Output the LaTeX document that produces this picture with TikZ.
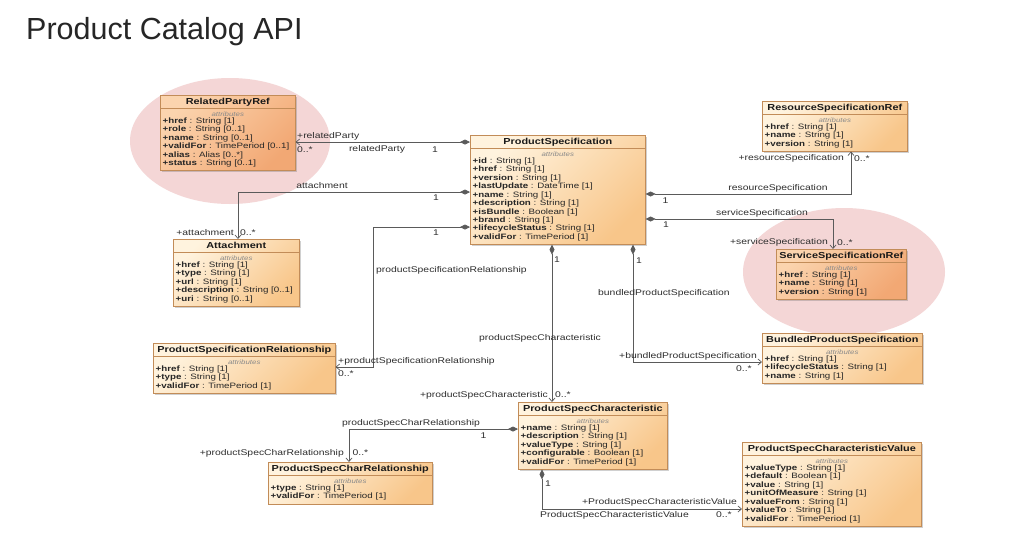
\documentclass[tikz,border=0pt]{standalone}
\usepackage{fontspec}
\setmainfont{Liberation Sans}
\newfontfamily\boxfont{Liberation Sans}[FakeStretch=1.25]
\usetikzlibrary{arrows.meta,shadows,calc}
\definecolor{boxlight}{HTML}{FFF3DE}
\definecolor{boxdark}{HTML}{F8C68A}
\definecolor{hilight}{HTML}{FBD4AE}
\definecolor{hidark}{HTML}{F2A874}
\definecolor{boxborder}{HTML}{C28C58}
\definecolor{pinkbg}{HTML}{F4D6D6}
\definecolor{linecol}{HTML}{5A5A5A}
\definecolor{labelcol}{HTML}{2E2E2E}
\definecolor{attrgray}{HTML}{8A8A8A}
\newcommand\ua[2]{\textbf{+#1} : #2}
% name, x, y, w, h, fill style, title, lines
\newcommand\umlclass[8]{%
  \node[clsbox,#6,minimum width=#4pt,minimum height=#5pt] (#1) at (#2,#3) {};
  \draw[boxborder,line width=0.6pt] ([yshift=-13pt]#1.north west) -- ([yshift=-13pt]#1.north east);
  \node[clstitle] (#1-title) at ([yshift=-6.8pt]#1.north) {#7};
  \node[clsattrs] (#1-attrs) at ([yshift=-19pt]#1.north) {attributes};
  \node[clslines] (#1-lines) at ([xshift=2.5pt,yshift=-22.5pt]#1.north west) {#8};
}
\tikzset{
  clsbox/.style={draw=boxborder, line width=0.6pt, anchor=north west, inner sep=0pt,
    drop shadow={shadow xshift=1.5pt, shadow yshift=-1.5pt, opacity=0.3, fill=black!60}},
  normalfill/.style={top color=boxlight, bottom color=boxdark, shading angle=45},
  highfill/.style={top color=hilight, bottom color=hidark, shading angle=45},
  clstitle/.style={font=\boxfont\bfseries\fontsize{8.7}{9}\selectfont, text=black!90, inner sep=0pt},
  clsattrs/.style={font=\boxfont\itshape\fontsize{6.3}{7}\selectfont, text=attrgray, inner sep=0pt},
  clslines/.style={font=\boxfont\fontsize{7.8}{8.45}\selectfont, align=left, anchor=north west, inner sep=0pt, text=black!85},
  assoc/.style={draw=linecol, line width=0.7pt},
  comp/.style={assoc, arrows={Diamond[length=10pt,width=5pt]-Straight Barb[length=3.5pt,width=6pt]}},
  lbl/.style={font=\boxfont\fontsize{8.3}{9}\selectfont, text=labelcol, inner sep=0pt},
}
\begin{document}
\begin{tikzpicture}[x=1pt,y=-1pt]
\fill[white] (0,0) rectangle (1009,542);
\useasboundingbox (0,0) rectangle (1009,542);
\node[font=\fontsize{30.5}{34}\selectfont, text=black!85, anchor=base west, inner sep=0pt] (title) at (26,39) {Product Catalog API};
% highlight ellipses
\fill[pinkbg] (230,141) ellipse [x radius=100pt, y radius=63pt];
\fill[pinkbg] (844,272) ellipse [x radius=101pt, y radius=64pt];
% classes
\umlclass{rp}{160}{95}{135}{75.3}{highfill}{RelatedPartyRef}{\ua{href}{String [1]}\\ \ua{role}{String [0..1]}\\ \ua{name}{String [0..1]}\\ \ua{validFor}{TimePeriod [0..1]}\\ \ua{alias}{Alias [0..*]}\\ \ua{status}{String [0..1]}}
\umlclass{ps}{470}{135}{175}{109.1}{normalfill}{ProductSpecification}{\ua{id}{String [1]}\\ \ua{href}{String [1]}\\ \ua{version}{String [1]}\\ \ua{lastUpdate}{DateTime [1]}\\ \ua{name}{String [1]}\\ \ua{description}{String [1]}\\ \ua{isBundle}{Boolean [1]}\\ \ua{brand}{String [1]}\\ \ua{lifecycleStatus}{String [1]}\\ \ua{validFor}{TimePeriod [1]}}
\umlclass{rsr}{762}{101}{145}{49.9}{normalfill}{ResourceSpecificationRef}{\ua{href}{String [1]}\\ \ua{name}{String [1]}\\ \ua{version}{String [1]}}
\umlclass{att}{173}{239}{126}{66.8}{normalfill}{Attachment}{\ua{href}{String [1]}\\ \ua{type}{String [1]}\\ \ua{url}{String [1]}\\ \ua{description}{String [0..1]}\\ \ua{uri}{String [0..1]}}
\umlclass{ssr}{776}{249}{130}{49.9}{highfill}{ServiceSpecificationRef}{\ua{href}{String [1]}\\ \ua{name}{String [1]}\\ \ua{version}{String [1]}}
\umlclass{psr}{153}{343}{182}{49.9}{normalfill}{ProductSpecificationRelationship}{\ua{href}{String [1]}\\ \ua{type}{String [1]}\\ \ua{validFor}{TimePeriod [1]}}
\umlclass{bps}{762}{333}{160}{49.9}{normalfill}{BundledProductSpecification}{\ua{href}{String [1]}\\ \ua{lifecycleStatus}{String [1]}\\ \ua{name}{String [1]}}
\umlclass{psc}{518}{402}{149}{66.8}{normalfill}{ProductSpecCharacteristic}{\ua{name}{String [1]}\\ \ua{description}{String [1]}\\ \ua{valueType}{String [1]}\\ \ua{configurable}{Boolean [1]}\\ \ua{validFor}{TimePeriod [1]}}
\umlclass{pscr}{268}{462}{164}{41.5}{normalfill}{ProductSpecCharRelationship}{\ua{type}{String [1]}\\ \ua{validFor}{TimePeriod [1]}}
\umlclass{pscv}{742}{442}{179}{83.7}{normalfill}{ProductSpecCharacteristicValue}{\ua{valueType}{String [1]}\\ \ua{default}{Boolean [1]}\\ \ua{value}{String [1]}\\ \ua{unitOfMeasure}{String [1]}\\ \ua{valueFrom}{String [1]}\\ \ua{valueTo}{String [1]}\\ \ua{validFor}{TimePeriod [1]}}
% connectors
\coordinate (psrbend) at (373,227);
\draw[comp] ([yshift=-7pt]ps.north west) -- ([yshift=-47pt]rp.north east);
\draw[comp] ([yshift=-57pt]ps.north west) -| ([xshift=65pt]att.north west);
\draw[comp] ([yshift=-92pt]ps.north west) -- (psrbend) |- ([yshift=-24pt]psr.north east);
\draw[comp] ([xshift=82pt]ps.south west) -- ([xshift=34pt]psc.north west);
\draw[comp] ([xshift=163pt]ps.south west) |- ([yshift=-29pt]bps.north west);
\draw[comp] ([yshift=-59pt]ps.north east) -| ([xshift=89pt]rsr.south west);
\draw[comp] ([yshift=-84pt]ps.north east) -| ([xshift=57pt]ssr.north west);
\draw[comp] ([yshift=-27pt]psc.north west) -| ([xshift=81pt]pscr.north west);
\draw[comp] ([xshift=24pt]psc.south west) |- ([yshift=-67pt]pscv.north west);
% labels
\node[lbl,anchor=west] (l1a) at (297,136.5) {+relatedParty};
\node[lbl,anchor=west] (l1b) at (297,150) {0..*};
\node[lbl] (l1c) at (377,149) {relatedParty};
\node[lbl] (l1d) at (435,149.5) {1};
\node[lbl] (l2a) at (322,186) {attachment};
\node[lbl] (l2b) at (436,197.5) {1};
\node[lbl,anchor=east] (l2c) at (234,232.5) {+attachment};
\node[lbl,anchor=west] (l2d) at (240,232.5) {0..*};
\node[lbl] (l3a) at (436,232.5) {1};
\node[lbl,anchor=west] (l3b) at (376,270) {productSpecificationRelationship};
\node[lbl,anchor=west] (l3c) at (338,361) {+productSpecificationRelationship};
\node[lbl,anchor=west] (l3d) at (338,373.5) {0..*};
\node[lbl] (l4a) at (557,260) {1};
\node[lbl] (l4b) at (540,338) {productSpecCharacteristic};
\node[lbl,anchor=east] (l4c) at (548,395) {+productSpecCharacteristic};
\node[lbl,anchor=west] (l4d) at (555,395) {0..*};
\node[lbl] (l5a) at (639,261) {1};
\node[lbl,anchor=west] (l5b) at (598,293) {bundledProductSpecification};
\node[lbl,anchor=east] (l5c) at (757,356) {+bundledProductSpecification};
\node[lbl,anchor=west] (l5d) at (736,368.5) {0..*};
\node[lbl] (l6a) at (778,188) {resourceSpecification};
\node[lbl] (l6b) at (665.5,201) {1};
\node[lbl,anchor=east] (l6c) at (844,158.5) {+resourceSpecification};
\node[lbl,anchor=west] (l6d) at (854,158.5) {0..*};
\node[lbl] (l7a) at (762,213) {serviceSpecification};
\node[lbl] (l7b) at (666,225) {1};
\node[lbl,anchor=east] (l7c) at (828,242.5) {+serviceSpecification};
\node[lbl,anchor=west] (l7d) at (837,242.5) {0..*};
\node[lbl] (l8a) at (411,423.5) {productSpecCharRelationship};
\node[lbl] (l8b) at (483.5,436) {1};
\node[lbl,anchor=east] (l8c) at (344,453) {+productSpecCharRelationship};
\node[lbl,anchor=west] (l8d) at (352.5,453) {0..*};
\node[lbl] (l9a) at (548,484) {1};
\node[lbl,anchor=east] (l9b) at (737,502) {+ProductSpecCharacteristicValue};
\node[lbl,anchor=west] (l9c) at (540,515) {ProductSpecCharacteristicValue};
\node[lbl,anchor=west] (l9d) at (716,515) {0..*};
\end{tikzpicture}
\end{document}
